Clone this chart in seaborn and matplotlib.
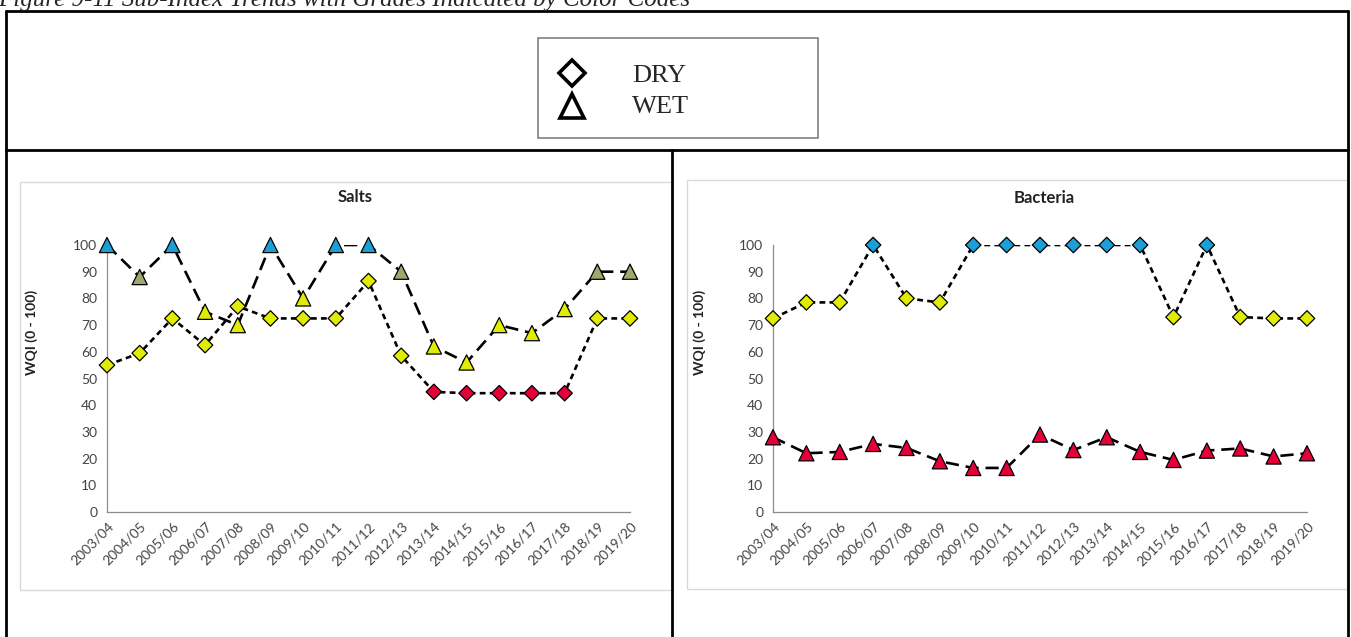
import numpy as np
import pandas as pd
import matplotlib.pyplot as plt
import seaborn as sns
from matplotlib.lines import Line2D
from matplotlib.patches import Rectangle

sns.set_style("white")
plt.rcParams["font.family"] = ["Lato", "DejaVu Sans"]

seasons = ["2003/04", "2004/05", "2005/06", "2006/07", "2007/08", "2008/09",
           "2009/10", "2010/11", "2011/12", "2012/13", "2013/14", "2014/15",
           "2015/16", "2016/17", "2017/18", "2018/19", "2019/20"]

salts_dry = [55, 59.5, 72.5, 62.5, 77, 72.5, 72.5, 72.5, 86.5, 58.5,
             45, 44.5, 44.5, 44.5, 44.5, 72.5, 72.5]
salts_dry_grade = ["Fair"] * 10 + ["Poor"] * 5 + ["Fair"] * 2
salts_wet = [100, 88, 100, 75, 70, 100, 80, 100, 100, 90,
             62, 56, 70, 67, 76, 90, 90]
salts_wet_grade = ["Excellent", "Good", "Excellent", "Fair", "Fair", "Excellent",
                   "Fair", "Excellent", "Excellent", "Good", "Fair", "Fair",
                   "Fair", "Fair", "Fair", "Good", "Good"]

bact_dry = [72.5, 78.5, 78.5, 100, 80, 78.5, 100, 100, 100, 100,
            100, 100, 73, 100, 73, 72.5, 72.5]
bact_dry_grade = ["Excellent" if v == 100 else "Fair" for v in bact_dry]
bact_wet = [28, 22, 22.5, 25.5, 24, 19, 16.5, 16.5, 29, 23.2,
            28, 22.5, 19.5, 23, 23.8, 20.8, 22]
bact_wet_grade = ["Poor"] * 17

grade_colors = {"Excellent": "#1C9FD6", "Good": "#A0A66C",
                "Fair": "#E0EC05", "Poor": "#E6003A"}

W, H = 1351, 637


def fx(x):
    return x / W


def fy(y):
    return 1 - y / H


def draw_panel(ax, dry, dry_grade, wet, wet_grade):
    df_dry = pd.DataFrame({"season": seasons, "wqi": dry, "grade": dry_grade})
    df_wet = pd.DataFrame({"season": seasons, "wqi": wet, "grade": wet_grade})

    sns.lineplot(data=df_dry, x="season", y="wqi", ax=ax, sort=False,
                 color="black", lw=1.9, linestyle=(0, (2.2, 1.6)), zorder=2)
    sns.lineplot(data=df_wet, x="season", y="wqi", ax=ax, sort=False,
                 color="black", lw=1.9, linestyle=(0, (5, 2.6)), zorder=2)
    sns.scatterplot(data=df_dry, x="season", y="wqi", hue="grade",
                    palette=grade_colors, marker="D", s=62, edgecolor="black",
                    linewidth=0.9, legend=False, ax=ax, zorder=3, clip_on=False)
    sns.scatterplot(data=df_wet, x="season", y="wqi", hue="grade",
                    palette=grade_colors, marker="^", s=120, edgecolor="black",
                    linewidth=0.9, legend=False, ax=ax, zorder=3, clip_on=False)

    ax.set_xlim(0, len(seasons) - 1)
    ax.set_ylim(0, 100)
    ax.set_yticks(range(0, 101, 10))
    ax.set_xticks(range(len(seasons)))
    ax.set_xticklabels(seasons, rotation=45, ha="right", rotation_mode="anchor")
    ax.set_xlabel("")
    ax.set_ylabel("")
    for side in ["top", "right"]:
        ax.spines[side].set_visible(False)
    for side in ["left", "bottom"]:
        ax.spines[side].set_color("#8c8c8c")
        ax.spines[side].set_linewidth(0.9)
    ax.tick_params(axis="both", direction="out", length=4, width=0.8,
                   color="#8c8c8c", labelsize=10, labelcolor="#444444", pad=3)
    ax.tick_params(axis="x", pad=2)
    ax.set_facecolor("none")


fig = plt.figure(figsize=(W / 100, H / 100), dpi=100)

# chart image frames
fig.add_artist(Rectangle((fx(20), fy(590)), fx(652), 408 / H, transform=fig.transFigure,
                         fill=False, edgecolor="#d9d9d9", lw=1))
fig.add_artist(Rectangle((fx(687), fy(589)), fx(660), 409 / H, transform=fig.transFigure,
                         fill=False, edgecolor="#d9d9d9", lw=1))

ax1 = fig.add_axes([fx(107), fy(512), fx(630 - 107), (512 - 245) / H])
draw_panel(ax1, salts_dry, salts_dry_grade, salts_wet, salts_wet_grade)
ax2 = fig.add_axes([fx(773), fy(512), fx(1307 - 773), (512 - 245) / H])
draw_panel(ax2, bact_dry, bact_dry_grade, bact_wet, bact_wet_grade)

fig.text(fx(355), fy(197), "Salts", fontsize=12, fontweight="bold",
         color="#222222", ha="center", va="center")
fig.text(fx(1044), fy(198), "Bacteria", fontsize=12, fontweight="bold",
         color="#222222", ha="center", va="center")
for x in [32, 700]:
    fig.text(fx(x), fy(332), "WQI (0 - 100)", fontsize=10, fontweight="bold",
             color="#222222", rotation=90, ha="center", va="center")

# table lines
tbl = dict(transform=fig.transFigure, color="black", lw=2)
fig.add_artist(Line2D([fx(6), fx(1348)], [fy(11), fy(11)], **tbl))
fig.add_artist(Line2D([fx(6), fx(6)], [fy(11), fy(640)], **tbl))
fig.add_artist(Line2D([fx(1348), fx(1348)], [fy(11), fy(640)], **tbl))
fig.add_artist(Line2D([fx(6), fx(1348)], [fy(150), fy(150)], **tbl))
fig.add_artist(Line2D([fx(672), fx(672)], [fy(150), fy(640)], **tbl))

# caption, cut at the top edge as in the source page
fig.text(fx(-2), fy(6), "Figure 9-11 Sub-Index Trends with Grades Indicated by Color Codes",
         family=["Liberation Serif"], style="italic", fontsize=18, va="baseline", ha="left")

# legend box
fig.add_artist(Rectangle((fx(538), fy(138)), fx(280), 100 / H, transform=fig.transFigure,
                         fill=False, edgecolor="#808080", lw=1.2))
fig.add_artist(Line2D([fx(572)], [fy(73)], marker="D", ms=13, mfc="white", mec="black",
                      mew=2.6, transform=fig.transFigure))
fig.add_artist(Line2D([fx(572)], [fy(106)], marker="^", ms=17, mfc="white", mec="black",
                      mew=2.6, transform=fig.transFigure))
fig.text(fx(632), fy(76), "DRY", family=["Liberation Serif"], fontsize=19,
         ha="left", va="center")
fig.text(fx(632), fy(107), "WET", family=["Liberation Serif"], fontsize=19,
         ha="left", va="center")

fig.savefig("out.png", dpi=100)
